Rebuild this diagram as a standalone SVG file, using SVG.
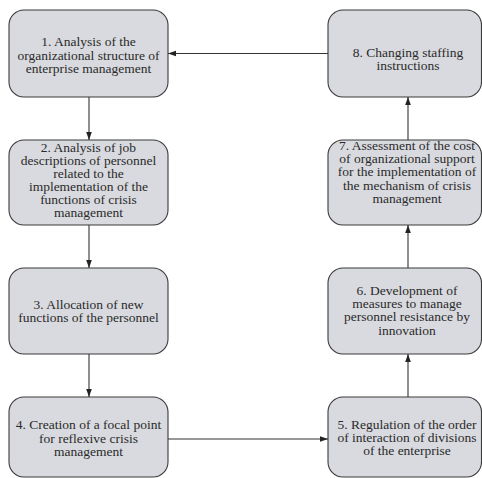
<svg xmlns="http://www.w3.org/2000/svg" width="482" height="478" viewBox="0 0 482 478">
<defs>
<style>
.box{fill:#d9dadf;stroke:#3a3a3a;stroke-width:1.1}
.t{font-family:'Liberation Serif','Times New Roman',serif;font-size:13.5px;fill:#2a2a2a;text-anchor:middle}
.c{stroke:#333;stroke-width:1.1;fill:none;marker-end:url(#ah)}
</style>
<marker id="ah" viewBox="0 0 10 10" refX="10" refY="5" markerWidth="8" markerHeight="8" markerUnits="userSpaceOnUse" orient="auto">
<path d="M0,1.5 L10,5 L0,8.5 z" fill="#222"/>
</marker>
</defs>
<rect width="482" height="478" fill="#fff"/>
<g id="connectors">
<path class="c" d="M89,97 V140"/>
<path class="c" d="M89,225 V268"/>
<path class="c" d="M89,354 V397"/>
<path class="c" d="M168,439 H328"/>
<path class="c" d="M408,397 V354"/>
<path class="c" d="M408,268 V225"/>
<path class="c" d="M408,140 V97"/>
<path class="c" d="M328,53.5 H168"/>
</g>
<g id="n1"><rect class="box" x="9" y="10" width="159" height="87" rx="15"/>
<text class="t" x="88.5" y="46">1. Analysis of the</text>
<text class="t" x="88.5" y="59.5">organizational structure of</text>
<text class="t" x="88.5" y="72.5">enterprise management</text></g>
<g id="n2"><rect class="box" x="9" y="140" width="159" height="85" rx="15"/>
<text class="t" x="88.5" y="152">2. Analysis of job</text>
<text class="t" x="88.5" y="165">descriptions of personnel</text>
<text class="t" x="88.5" y="178">related to the</text>
<text class="t" x="88.5" y="191">implementation of the</text>
<text class="t" x="88.5" y="204">functions of crisis</text>
<text class="t" x="88.5" y="217">management</text></g>
<g id="n3"><rect class="box" x="9" y="268" width="159" height="86" rx="15"/>
<text class="t" x="88.5" y="308.5">3. Allocation of new</text>
<text class="t" x="88.5" y="322">functions of the personnel</text></g>
<g id="n4"><rect class="box" x="9" y="397" width="159" height="80" rx="15"/>
<text class="t" x="88.5" y="429">4. Creation of a focal point</text>
<text class="t" x="88.5" y="443">for reflexive crisis</text>
<text class="t" x="88.5" y="456">management</text></g>
<g id="n5"><rect class="box" x="328" y="397" width="153.5" height="80" rx="15"/>
<text class="t" x="407" y="429">5. Regulation of the order</text>
<text class="t" x="407" y="442">of interaction of divisions</text>
<text class="t" x="407" y="455">of the enterprise</text></g>
<g id="n6"><rect class="box" x="328" y="268" width="153.5" height="86" rx="15"/>
<text class="t" x="407" y="295">6. Development of</text>
<text class="t" x="407" y="308">measures to manage</text>
<text class="t" x="407" y="321">personnel resistance by</text>
<text class="t" x="407" y="335">innovation</text></g>
<g id="n7"><rect class="box" x="328" y="140" width="153.5" height="85" rx="15"/>
<text class="t" x="407" y="150">7. Assessment of the cost</text>
<text class="t" x="407" y="163">of organizational support</text>
<text class="t" x="407" y="176">for the implementation of</text>
<text class="t" x="407" y="190">the mechanism of crisis</text>
<text class="t" x="407" y="203">management</text></g>
<g id="n8"><rect class="box" x="328" y="10" width="153.5" height="87" rx="15"/>
<text class="t" x="408" y="57">8. Changing staffing</text>
<text class="t" x="408" y="70">instructions</text></g>
</svg>
